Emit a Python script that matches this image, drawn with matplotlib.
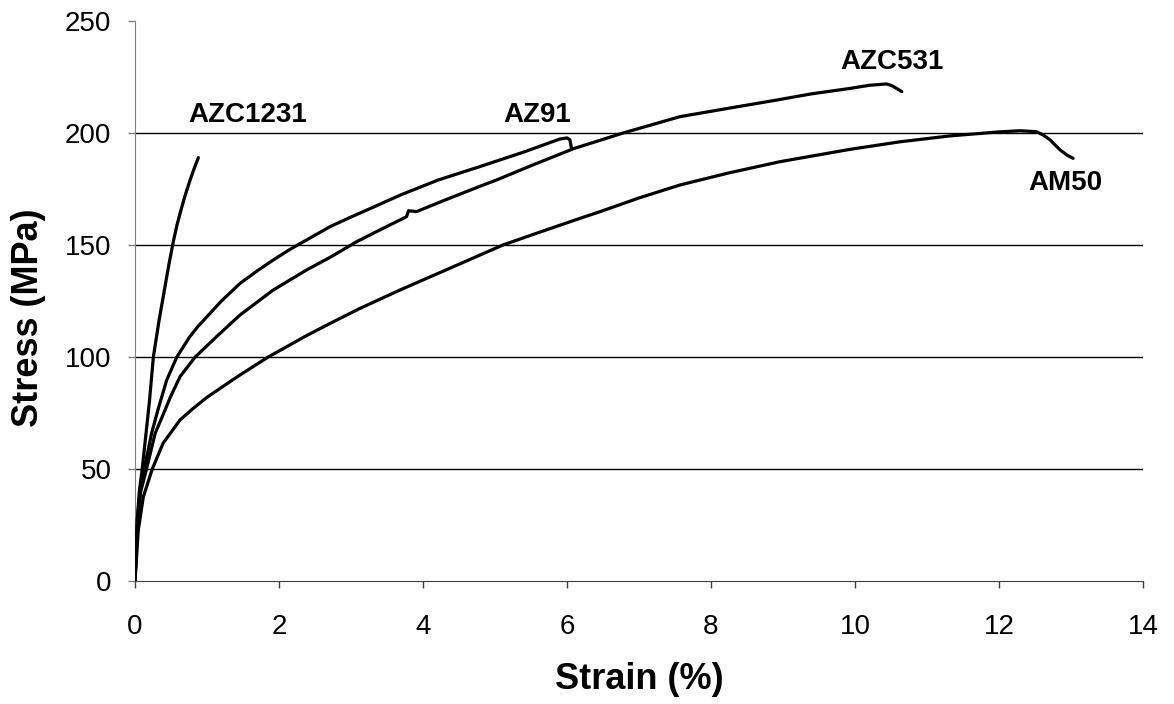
import matplotlib
matplotlib.use("Agg")
import matplotlib.pyplot as plt

# Tensile stress-strain curves of die-cast magnesium alloys (strain in %, stress in MPa)
azc1231_strain = [0, 0.01, 0.03, 0.06, 0.10, 0.15, 0.20, 0.255, 0.335, 0.417,
                  0.475, 0.532, 0.58, 0.625, 0.69, 0.76, 0.82, 0.88]
azc1231_stress = [0, 8, 27, 40, 50, 65, 80, 100, 116.5, 131.5,
                  142, 151.5, 158.5, 164, 171.5, 178.5, 184, 189]

az91_strain = [0, 0.01, 0.035, 0.07, 0.125, 0.18, 0.23, 0.324, 0.37, 0.44, 0.58,
               0.68, 0.76, 0.87, 1.0, 1.2, 1.46, 1.7, 1.92, 2.15, 2.38, 2.71, 3.0,
               3.22, 3.7, 4.21, 4.79, 5.4, 5.9, 6.0, 6.04, 6.06]
az91_stress = [0, 8, 28, 40, 50, 58, 65.9, 77, 82, 89.7, 99.9,
               105, 109, 113.5, 118, 125, 132.9, 138.5, 143.3, 148, 152.2, 158.2,
               162.5, 165.6, 172.5, 179, 185, 191.5, 197.3, 197.8, 197, 193.5]

azc531_strain = [0, 0.01, 0.04, 0.08, 0.16, 0.28, 0.417, 0.49, 0.625, 0.833, 1.13,
                 1.46, 1.92, 2.38, 2.71, 3.08, 3.4, 3.77, 3.80, 3.91, 4.3, 4.79,
                 5.02, 5.5, 6.09, 6.78, 7.57, 8.2, 8.91, 9.4, 9.93, 10.2, 10.44,
                 10.52, 10.65]
azc531_stress = [0, 7, 28, 40, 50, 65.9, 76.3, 82, 91.2, 99.9, 109,
                 118.8, 129.9, 138.8, 144.5, 151.5, 156.7, 162.6, 165.3, 164.9, 170,
                 176.2, 179, 185.4, 193, 200, 207.3, 210.8, 214.7, 217.5, 219.9,
                 221.3, 221.9, 221.0, 218.5]

am50_strain = [0, 0.02, 0.046, 0.116, 0.24, 0.39, 0.625, 0.81, 1.0, 1.32, 1.46,
               1.85, 2.38, 2.71, 3.125, 3.68, 4.4, 5.11, 5.6, 6.18, 6.46, 7.0,
               7.57, 8.25, 8.96, 9.93, 10.63, 11.32, 12.0, 12.29, 12.52, 12.62,
               12.71, 12.85, 12.95, 13.03]
am50_stress = [0, 10, 22.8, 37.6, 50, 61.5, 71.9, 77.1, 82, 89, 92,
               100, 109.5, 115, 121.7, 129.9, 140, 150, 155.5, 161.9, 164.9, 171,
               176.8, 182.2, 187.2, 192.7, 196.1, 198.7, 200.5, 201, 200.6, 199,
               196.9, 192.4, 190, 188.7]

alloy_names = ["AZC1231", "AZ91", "AZC531", "AM50"]
label_strain = [1.56, 5.58, 10.51, 12.92]
label_stress = [208, 208, 231.7, 177.7]

x_ticks = [0, 2, 4, 6, 8, 10, 12, 14]
y_ticks = [0, 50, 100, 150, 200, 250]
grid_levels = [50, 100, 150, 200]

plt.rcParams["font.family"] = ["Liberation Sans", "DejaVu Sans"]

fig = plt.figure(figsize=(11.74, 7.04), dpi=100)
ax = fig.add_axes([135 / 1174, 1 - 581 / 704, 1008 / 1174, 560 / 704])

for level in grid_levels:
    ax.axhline(level, color="black", linewidth=1.0, zorder=1)

curves = [(azc1231_strain, azc1231_stress), (az91_strain, az91_stress),
          (azc531_strain, azc531_stress), (am50_strain, am50_stress)]
for xs, ys in curves:
    ax.plot(xs, ys, color="black", linewidth=2.3, solid_capstyle="round",
            solid_joinstyle="round", zorder=3)

for name, lx, ly in zip(alloy_names, label_strain, label_stress):
    ax.text(lx, ly, name, ha="center", va="center", fontsize=20,
            fontweight="bold", zorder=4)

ax.set_xlim(0, 14)
ax.set_ylim(0, 250)
ax.set_xticks(x_ticks)
ax.set_yticks(y_ticks)
ax.tick_params(axis="both", labelsize=20, length=5, width=1, direction="out")
ax.tick_params(axis="x", pad=19)
ax.tick_params(axis="y", pad=12)

for side in ("top", "right"):
    ax.spines[side].set_visible(False)
ax.spines["left"].set_color("#7f7f7f")
ax.spines["bottom"].set_color("#404040")
ax.tick_params(axis="y", color="#7f7f7f")
ax.tick_params(axis="x", color="#404040")

ax.set_xlabel("Strain (%)", fontsize=26, fontweight="bold")
ax.set_ylabel("Stress (MPa)", fontsize=26, fontweight="bold")
ax.xaxis.set_label_coords(0.5, -0.193)
ax.xaxis.label.set_va("baseline")
ax.yaxis.set_label_coords(-0.106, 0.47)
ax.yaxis.label.set_va("center")

fig.savefig("out.png", dpi=100)
